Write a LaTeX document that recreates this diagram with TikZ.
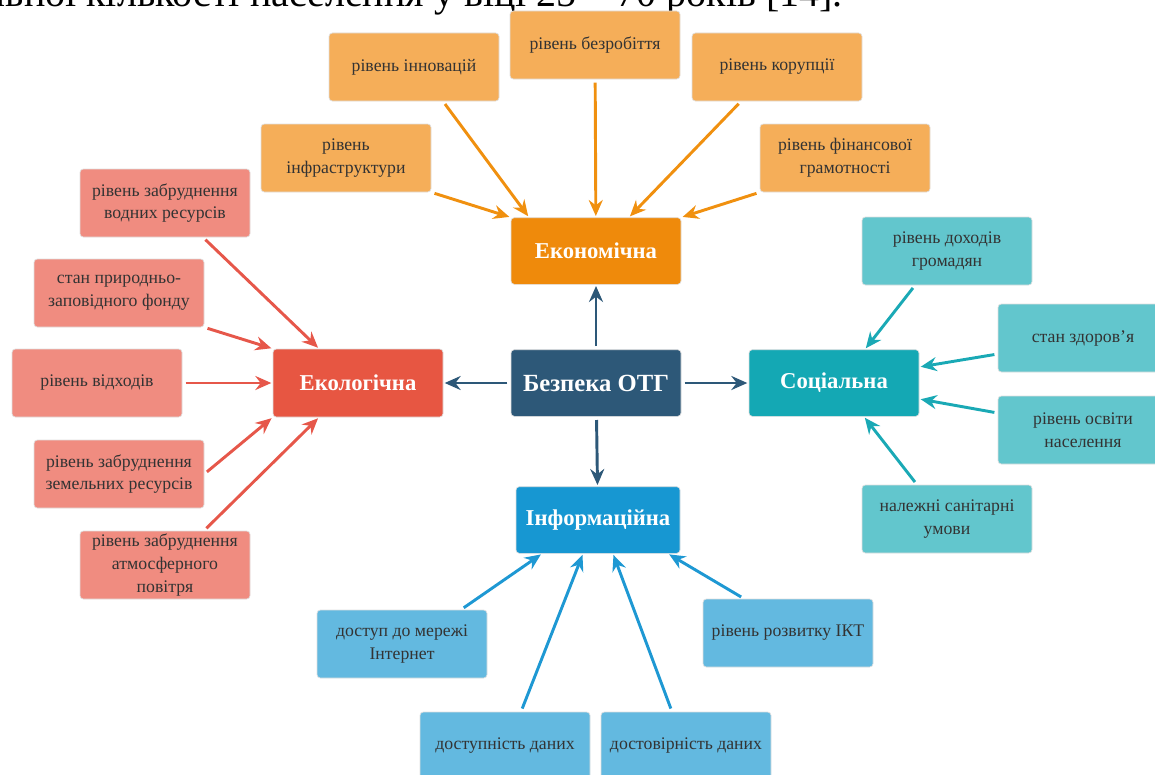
\documentclass[tikz,border=0pt]{standalone}
\usepackage{fontspec}
\setmainfont{Liberation Serif}
\usetikzlibrary{calc,arrows.meta}

\definecolor{ekoleaf}{HTML}{F5AE59}
\definecolor{ekohub}{HTML}{EF8A0B}
\definecolor{ekoline}{HTML}{F0900F}
\definecolor{eclleaf}{HTML}{F08C80}
\definecolor{eclhub}{HTML}{E75642}
\definecolor{eclline}{HTML}{E6574A}
\definecolor{socleaf}{HTML}{62C6CD}
\definecolor{sochub}{HTML}{14A8B4}
\definecolor{socline}{HTML}{1AA9B5}
\definecolor{infleaf}{HTML}{63B9E0}
\definecolor{infhub}{HTML}{1797D2}
\definecolor{infline}{HTML}{1E98D3}
\definecolor{cenhub}{HTML}{2D5878}
\definecolor{leaftxt}{HTML}{333333}

\tikzset{
  leaf/.style={rectangle,rounded corners=2.5pt,minimum width=127.5pt,minimum height=51pt,
    inner sep=1pt,align=center,text=leaftxt,font=\fontsize{13.3}{17}\selectfont,
    draw=white!75!gray,line width=0.5pt},
  hub/.style={leaf,minimum height=50pt,text=white,font=\fontsize{17}{19}\selectfont\bfseries},
  arr/.style={line width=2.2pt,-{Stealth[length=12pt,width=10.5pt,inset=4pt]},shorten <=2.5pt,shorten >=1pt},
}

\begin{document}
\begin{tikzpicture}[x=0.75pt,y=-0.75pt]
    \useasboundingbox (0,0) rectangle (1155,774);
    \clip (0,0) rectangle (1155,774);
    \node[anchor=base east,inner sep=0pt,font=\fontsize{30}{32}\selectfont](hdr)at(843,7){загальної кількості населення у віці 25 – 70 років [14].};

    \node[hub,fill=cenhub,font=\fontsize{18.5}{20}\selectfont\bfseries](cen)at(596,383){Безпека ОТГ};
    \node[hub,fill=ekohub](eko)at(596,251){Економічна};
    \node[hub,fill=eclhub,minimum height=51pt](ekl)at(358,383){Екологічна};
    \node[hub,fill=sochub](soc)at(834,383){Соціальна};
    \node[hub,fill=infhub,minimum width=123pt](inf)at(598,520){Інформаційна};

    \node[leaf,fill=ekoleaf](e1)at(414,67){рівень інновацій};
    \node[leaf,fill=ekoleaf](e2)at(595,45){рівень безробіття};
    \node[leaf,fill=ekoleaf](e3)at(777,67){рівень корупції};
    \node[leaf,fill=ekoleaf](e4)at(346,158){рівень\\інфраструктури};
    \node[leaf,fill=ekoleaf](e5)at(845,158){рівень фінансової\\грамотності};

    \node[leaf,fill=eclleaf](l1)at(165,203){рівень забруднення\\водних ресурсів};
    \node[leaf,fill=eclleaf](l2)at(119,293){стан природньо-\\заповідного фонду};
    \node[leaf,fill=eclleaf](l3)at(97,383){рівень відходів};
    \node[leaf,fill=eclleaf](l4)at(119,474){рівень забруднення\\земельних ресурсів};
    \node[leaf,fill=eclleaf](l5)at(165,565){рівень забруднення\\атмосферного\\повітря};

    \node[leaf,fill=socleaf](s1)at(947,251){рівень доходів\\громадян};
    \node[leaf,fill=socleaf](s2)at(1083,338){стан здоров'я};
    \node[leaf,fill=socleaf](s3)at(1083,430){рівень освіти\\населення};
    \node[leaf,fill=socleaf](s4)at(947,519){належні санітарні\\умови};

    \node[leaf,fill=infleaf](i1)at(402,644){доступ до мережі\\Інтернет};
    \node[leaf,fill=infleaf](i2)at(505,746){доступність даних};
    \node[leaf,fill=infleaf](i3)at(686,746){достовірність даних};
    \node[leaf,fill=infleaf](i4)at(788,633){рівень розвитку ІКТ};

    \draw[arr,cenhub] (cen) to (eko);
    \draw[arr,cenhub] (cen) to (ekl);
    \draw[arr,cenhub] (cen) to (soc);
    \draw[arr,cenhub] (cen) to (inf);

    \draw[arr,ekoline] ($(e1.south)+(29,0)$) to ($(eko.north)+(-67,0)$);
    \draw[arr,ekoline] (e2) to (eko);
    \draw[arr,ekoline] ($(e3.south)+(-36,0)$) to ($(eko.north)+(33,0)$);
    \draw[arr,ekoline] (e4.south east) to (eko.north west);
    \draw[arr,ekoline] (e5.south west) to (eko.north east);

    \draw[arr,eclline] ($(l1.south)+(38,0)$) to ($(ekl.north)+(-39,0)$);
    \draw[arr,eclline] (l2.south east) to (ekl.north west);
    \draw[arr,eclline] (l3) to (ekl);
    \draw[arr,eclline] (l4.east) to (ekl.south west);
    \draw[arr,eclline] ($(l5.north)+(39,0)$) to ($(ekl.south)+(-39,0)$);

    \draw[arr,socline] ($(s1.south)+(-32,0)$) to ($(soc.north)+(31,0)$);
    \draw[arr,socline] ($(s2.west)+(0,16)$) to ($(soc.east)+(0,-16)$);
    \draw[arr,socline] ($(s3.west)+(0,-17)$) to ($(soc.east)+(0,16)$);
    \draw[arr,socline] ($(s4.north)+(-30,0)$) to ($(soc.south)+(30,0)$);

    \draw[arr,infline] ($(i1.north)+(59,0)$) to ($(inf.south)+(-56,0)$);
    \draw[arr,infline] ($(i2.north)+(16,0)$) to ($(inf.south)+(-15,0)$);
    \draw[arr,infline] ($(i3.north)+(-14,0)$) to ($(inf.south)+(15,0)$);
    \draw[arr,infline] ($(i4.north)+(-44,0)$) to ($(inf.south)+(70,0)$);
  \end{tikzpicture}
\end{document}
